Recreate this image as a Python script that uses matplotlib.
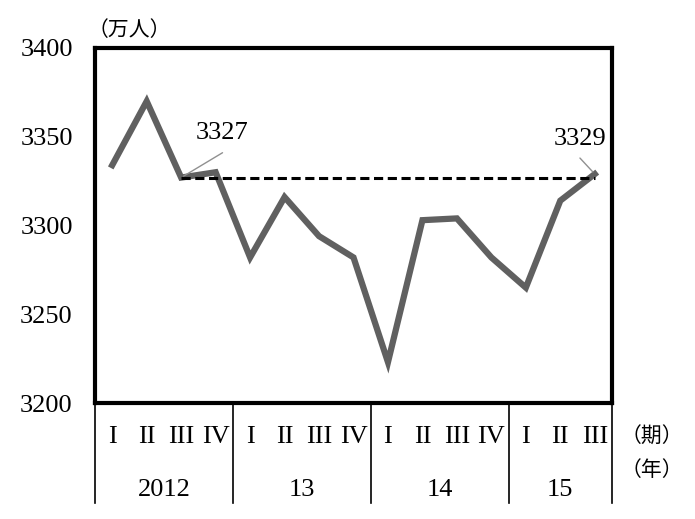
import matplotlib.pyplot as plt
import numpy as np

# quarterly values (万人), 2012 Q1 .. 2015 Q3
quarters = ['I', 'II', 'III', 'IV', 'I', 'II', 'III', 'IV',
            'I', 'II', 'III', 'IV', 'I', 'II', 'III']
years = ['2012', '13', '14', '15']
year_len = [4, 4, 4, 3]
values = [3334, 3370, 3327, 3330, 3282, 3316, 3294, 3282,
          3223, 3303, 3304, 3282, 3265, 3314, 3329]
ref_level = 3327

serif = ['Liberation Serif', 'DejaVu Serif']
cjk = ['Noto Sans CJK JP', 'DejaVu Sans']

W, H = 695, 519
fig = plt.figure(figsize=(W/100, H/100), dpi=100)
ax = fig.add_axes([95/W, (H-403)/H, 517/W, 355/H])

x = np.arange(len(values))
ax.plot(x, values, color='#606060', lw=4.5, solid_joinstyle='miter', zorder=3)
ax.plot([2, 14], [ref_level, ref_level], color='black', lw=2.2, ls=(0, (3, 1.5)), zorder=4)

ax.set_xlim(-0.5, 14.5)
ax.set_ylim(3200, 3400)
ax.set_yticks([3200, 3250, 3300, 3350, 3400])
ax.set_yticklabels(['3200', '3250', '3300', '3350', '3400'], family=serif, fontsize=19)
ax.tick_params(axis='y', length=0, pad=16)
ax.set_xticks([])
for s in ax.spines.values():
    s.set_linewidth(3)

# annotations with leader lines
ax.annotate('', xy=(2, values[2]), xytext=(3.2, 3341),
            arrowprops=dict(arrowstyle='-', color='#909090', lw=1, shrinkA=0, shrinkB=2))
ax.text(3.2, 3346, '3327', family=serif, fontsize=19, ha='center', va='bottom')
ax.annotate('', xy=(14, values[14]), xytext=(13.57, 3338),
            arrowprops=dict(arrowstyle='-', color='#909090', lw=1, shrinkA=0, shrinkB=2))
ax.text(13.57, 3349, '3329', family=serif, fontsize=19, ha='center', va='center')

fig.text(88/W, 1-30/H, '（万人）', family=cjk, fontsize=15, va='center', ha='left')

# category table below axes
tr = ax.get_xaxis_transform()
bottom = -100/355
edges = [-0.5]
for n in year_len:
    edges.append(edges[-1] + n)
for e in edges:
    ax.plot([e, e], [0, bottom], transform=tr, color='black', lw=1.2, clip_on=False)
for i, q in enumerate(quarters):
    ax.text(i, -34/355, q, transform=tr, family=serif, fontsize=19, ha='center', va='center')
for k, yr in enumerate(years):
    mid = (edges[k] + edges[k+1]) / 2
    ax.text(mid, -87/355, yr, transform=tr, family=serif, fontsize=19, ha='center', va='center')
fig.text(652/W, 1-437/H, '（期）', family=cjk, fontsize=15, ha='center', va='center')
fig.text(652/W, 1-470/H, '（年）', family=cjk, fontsize=15, ha='center', va='center')

fig.savefig('out.png', dpi=100)
